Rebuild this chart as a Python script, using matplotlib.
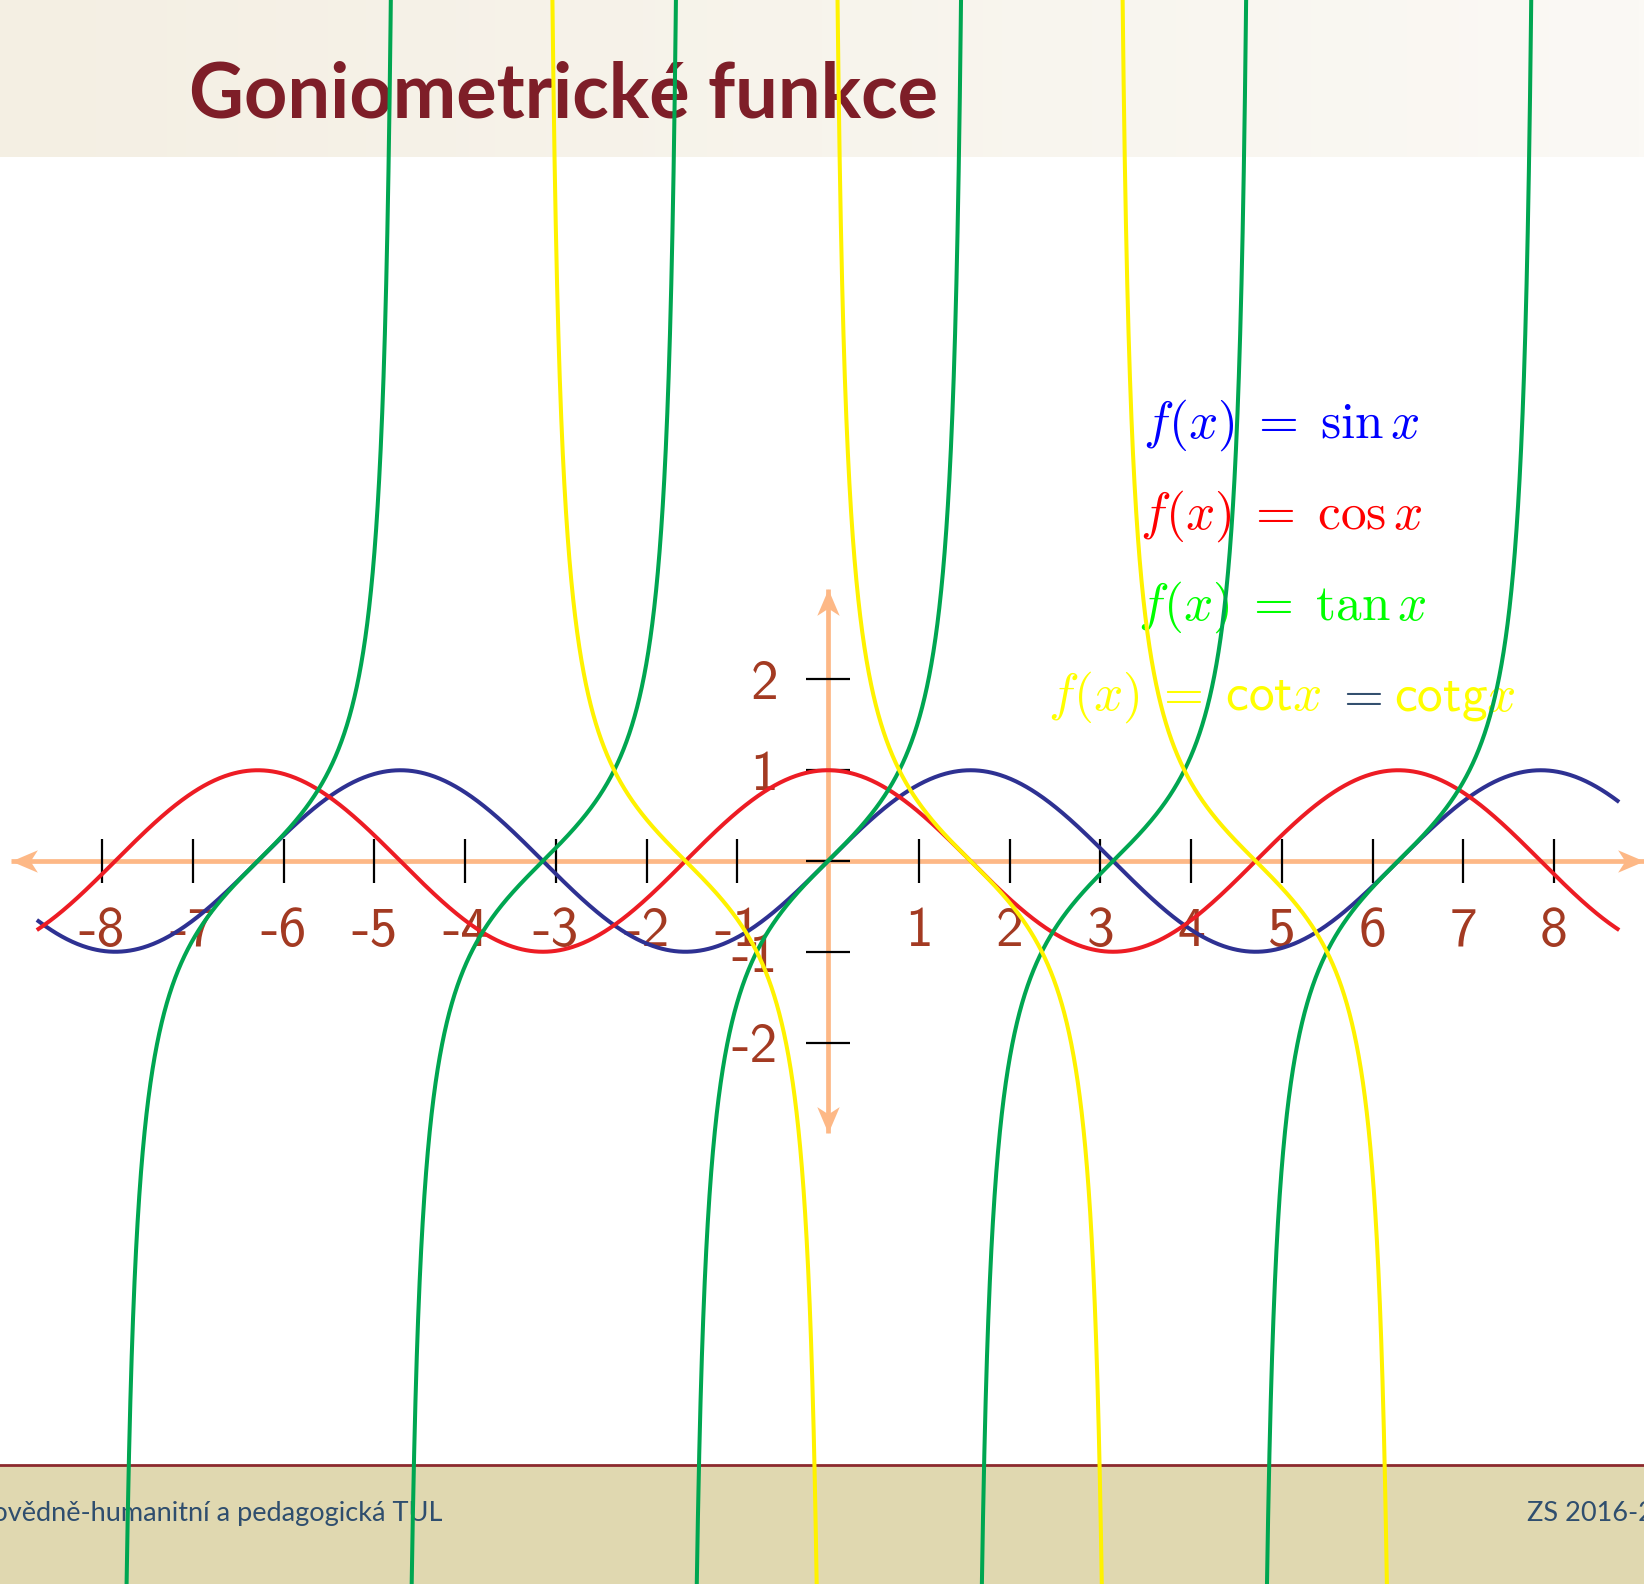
import numpy as np
import matplotlib.pyplot as plt
from matplotlib.patches import Rectangle
from matplotlib.colors import LinearSegmentedColormap
from matplotlib.offsetbox import TextArea, HPacker, AnnotationBbox
from matplotlib.markers import MarkerStyle
from matplotlib.path import Path
from matplotlib.transforms import Affine2D

plt.rcParams['mathtext.fontset'] = 'cm'

# --- data ---------------------------------------------------------------
x_ticks = [-8, -7, -6, -5, -4, -3, -2, -1, 1, 2, 3, 4, 5, 6, 7, 8]
x_tick_labels = ['-8', '-7', '-6', '-5', '-4', '-3', '-2', '-1',
                 '1', '2', '3', '4', '5', '6', '7', '8']
y_ticks = [-2, -1, 0, 1, 2]
y_label_ticks = [2, 1, -1, -2]
y_tick_labels = ['2', '1', '-1', '-2']

sincos_domain = [-8.7, 8.7]
tan_branch_centres = [-2, -1, 0, 1, 2]        # in multiples of pi
cot_branch_centres = [-0.5, 0.5, 1.5]         # in multiples of pi
x_axis_range = [-9, 8.99]
y_axis_range = [-3, 3]

legend_texts = [r'$f(x)\;=\;\sin x$', r'$f(x)\;=\;\cos x$', r'$f(x)\;=\;\tan x$']
legend_colors = ['#0000FF', '#FF0000', '#00FF00']
legend_y = [4.8, 3.8, 2.8, 1.8]
legend_x = 5

title = 'Goniometrické funkce'
footer_left = 'Fakulta přírodovědně-humanitní a pedagogická TUL'
footer_right = 'ZS 2016-2017'

# --- page layout (pixels) -------------------------------------------------
W, H, DPI = 1644, 1584, 100
unit = 90.75
ox, oy = 828, 861          # origin, px from top-left

fig = plt.figure(figsize=(W / DPI, H / DPI), dpi=DPI)

# background: header band, footer, page texts
bg = fig.add_axes([0, 0, 1, 1], zorder=0)
grad = LinearSegmentedColormap.from_list('hdr', ['#F4EFE3', '#FBF9F5'])
bg.imshow(np.linspace(0, 1, 256)[None, :], extent=[0, W, 157, 0],
          cmap=grad, aspect='auto')
bg.add_patch(Rectangle((0, 1465), W, H - 1465, color='#E0D8B0', lw=0))
bg.plot([0, W], [1464.5, 1464.5], color='#8C2A2E', lw=2)
bg.set_xlim(0, W)
bg.set_ylim(H, 0)
bg.axis('off')

bg.text(189, 118, title, fontsize=54.5, fontweight='bold', color='#7E1E28',
        family=['Lato', 'DejaVu Sans'], va='baseline', ha='left')
bg.text(442, 1521, footer_left, fontsize=19.5, color='#2F4E6E',
        family=['Lato', 'DejaVu Sans'], va='baseline', ha='right')
bg.text(1527, 1521, footer_right, fontsize=19.5, color='#2F4E6E',
        family=['Lato', 'DejaVu Sans'], va='baseline', ha='left')

# main plot in units
ax = fig.add_axes([0, 0, 1, 1], zorder=1)
ax.patch.set_alpha(0)
ax.set_xlim(-ox / unit, (W - ox) / unit)
ax.set_ylim(-(H - oy) / unit, oy / unit)
ax.axis('off')

# axes with swept-back arrow heads (tip of the marker at its origin)
axis_col = '#FDB886'
head = Path([(0, 0), (-2, 0.85), (-1.45, 0), (-2, -0.85), (0, 0)],
            [Path.MOVETO, Path.LINETO, Path.LINETO, Path.LINETO, Path.CLOSEPOLY])
ax.plot(x_axis_range, [0, 0], color=axis_col, lw=3.4, zorder=1,
        solid_capstyle='butt')
ax.plot([0, 0], y_axis_range, color=axis_col, lw=3.4, zorder=1,
        solid_capstyle='butt')
for (px, py), ang in [((x_axis_range[1], 0), 0), ((x_axis_range[0], 0), 180),
                      ((0, y_axis_range[1]), 90), ((0, y_axis_range[0]), 270)]:
    ax.plot([px], [py], linestyle='none', color=axis_col, markeredgewidth=0,
            marker=MarkerStyle(head, transform=Affine2D().rotate_deg(ang)),
            markersize=38, zorder=1)

ax.vlines(x_ticks, -0.24, 0.24, color='black', lw=1.6, zorder=2)
ax.hlines(y_ticks, -0.24, 0.24, color='black', lw=1.6, zorder=2)

lab_col = '#A33A22'
for xt, lab in zip(x_ticks, x_tick_labels):
    ax.text(xt, -0.94, lab, ha='center', va='baseline', fontsize=40,
            family='cmss10', color=lab_col, zorder=3)
for yt, lab in zip(y_label_ticks, y_tick_labels):
    ax.text(-0.55, yt - 0.22, lab, ha='right', va='baseline', fontsize=40,
            family='cmss10', color=lab_col, zorder=3)

# formulas
for txt, col, yy in zip(legend_texts, legend_colors, legend_y):
    ax.text(legend_x, yy, txt, ha='center', va='center', fontsize=37,
            color=col, zorder=3)
parts = [(r'$f(x)\;=\;\mathsf{cot}x$', '#FFFF00'),
         (r'$=$', '#34506F'),
         (r'$\mathsf{cotg}x$', '#FFFF00')]
box = HPacker(children=[TextArea(s, textprops=dict(color=c, fontsize=37))
                        for s, c in parts],
              align='baseline', pad=0, sep=9)
ab = AnnotationBbox(box, (legend_x, legend_y[3]), frameon=False,
                    box_alignment=(0.5, 0.5), zorder=3)
ax.add_artist(ab)

# curves
lw = 2.9
xs = np.linspace(sincos_domain[0], sincos_domain[1], 1500)
ax.plot(xs, np.sin(xs), color='#2E3192', lw=lw, zorder=4)
ax.plot(xs, np.cos(xs), color='#ED1C24', lw=lw, zorder=4)
eps = 1e-3
for c in tan_branch_centres:
    xb = np.linspace(c * np.pi - np.pi / 2 + eps, c * np.pi + np.pi / 2 - eps, 1500)
    ax.plot(xb, np.tan(xb), color='#00A651', lw=lw, zorder=5)
for c in cot_branch_centres:
    xb = np.linspace(c * np.pi - np.pi / 2 + eps, c * np.pi + np.pi / 2 - eps, 1500)
    ax.plot(xb, 1 / np.tan(xb), color='#FFF200', lw=lw, zorder=6)

fig.savefig('out.png', dpi=DPI)
